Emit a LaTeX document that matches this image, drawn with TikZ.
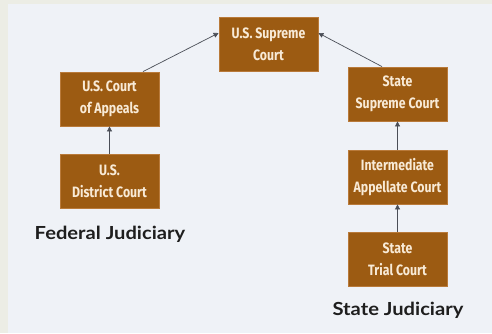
\documentclass[tikz,border=0pt]{standalone}
\usepackage{fontspec}
\setmainfont{Lato}
\newfontfamily\labelfont[FakeStretch=1.12]{Lato}
\newfontfamily\boxfont[FakeStretch=0.82]{Fira Sans}
\usetikzlibrary{arrows.meta}
\definecolor{bgmain}{HTML}{EFF2F7}
\definecolor{bgedge}{HTML}{ECEDE5}
\definecolor{courtfill}{HTML}{9C5B12}
\definecolor{courtline}{HTML}{B97A3A}
\definecolor{courttext}{HTML}{F8EAD6}
\definecolor{arrowcol}{HTML}{4A4E57}
\definecolor{labelcol}{HTML}{1E1E1E}
\tikzset{
  court/.style={draw=courtline, line width=0.8pt, fill=courtfill, minimum width=99pt, minimum height=54pt,
    inner sep=0pt, align=center, text=courttext, font=\boxfont\bfseries\fontsize{15}{22}\selectfont},
  appeal/.style={draw=arrowcol, line width=0.7pt, -{Triangle[length=5pt,width=5pt]}},
  grouplabel/.style={text=labelcol, font=\labelfont\bfseries\fontsize{18}{20}\selectfont, inner sep=0pt}
}
\begin{document}
\begin{tikzpicture}[x=1pt,y=1pt]
\useasboundingbox (0,0) rectangle (492,333);
\fill[bgedge] (0,0) rectangle (492,333);
\fill[bgmain] (8,0) rectangle (492,329);
\node[court] (sc) at (268.5,288.5) {U.S. Supreme\\Court};
\node[court] (ca) at (109.5,234) {U.S. Court\\of Appeals};
\node[court] (dc) at (109.5,152) {U.S.\\District Court};
\node[court] (ssc) at (397.5,239) {State\\Supreme Court};
\node[court] (iac) at (397.5,156) {Intermediate\\Appellate Court};
\node[court] (stc) at (397.5,74) {State\\Trial Court};
\node[grouplabel] (fj) at (110,99) {Federal Judiciary};
\node[grouplabel] (sj) at (398,23) {State Judiciary};
\draw[appeal] ([xshift=33.5pt]ca.north) -- ([yshift=11.5pt]sc.west);
\draw[appeal] ([xshift=-15.5pt]ssc.north) -- ([yshift=11.5pt]sc.east);
\draw[appeal] (dc.north) -- (ca.south);
\draw[appeal] (iac.north) -- (ssc.south);
\draw[appeal] (stc.north) -- (iac.south);
\end{tikzpicture}
\end{document}
